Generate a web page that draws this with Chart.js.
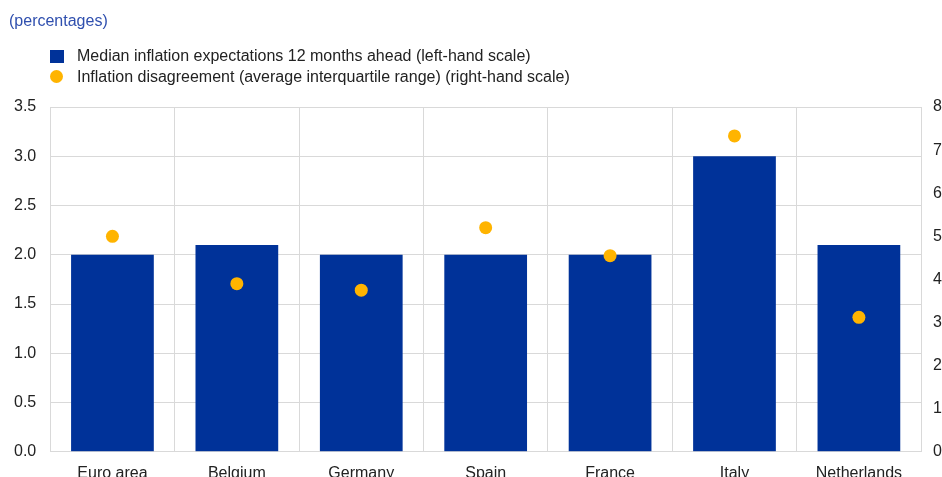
<!DOCTYPE html>
<html>
<head>
<meta charset="utf-8">
<script src="https://cdn.jsdelivr.net/npm/chart.js@4"></script>
<style>
  html, body { margin: 0; padding: 0; background: #fff; overflow: hidden; }
  #wrap { position: relative; width: 942px; height: 477px; overflow: hidden; font-family: "Liberation Sans", Arial, sans-serif; }
  #cv { position: absolute; left: 0; top: 0; }
  #title { position: absolute; left: 9px; top: 13px; font-size: 16px; line-height: 16px; color: #2f4fae; white-space: nowrap; }
  .leg { position: absolute; left: 50px; font-size: 16px; line-height: 16px; color: #222; white-space: nowrap; }
  .leg .sw { position: absolute; left: 0; width: 14px; height: 13px; }
  .leg span.t { position: absolute; left: 27px; top: 0; }
</style>
</head>
<body>
<div id="wrap">
  <div id="cv-holder" style="position:absolute;left:0;top:0;">
    <canvas id="cv"></canvas>
  </div>
  <div id="title">(percentages)</div>
  <div class="leg" id="leg1" style="top:48px;"><div class="sw" style="top:2px;background:#003299"></div><span class="t"></span></div>
  <div class="leg" id="leg2" style="top:69px;"><div class="sw" style="top:1px;background:#ffb400;border-radius:50%;width:13px;height:13px;"></div><span class="t"></span></div>
</div>
<script>
const categories = ["Euro area", "Belgium", "Germany", "Spain", "France", "Italy", "Netherlands"];
const medianExpectations = [2.0, 2.1, 2.0, 2.0, 2.0, 3.0, 2.1];
const disagreement = [5.0, 3.9, 3.75, 5.2, 4.55, 7.33, 3.12];
const leftTicks = [0, 0.5, 1.0, 1.5, 2.0, 2.5, 3.0, 3.5];
const rightTicks = [0, 1, 2, 3, 4, 5, 6, 7, 8];
const seriesNames = [
  "Median inflation expectations 12 months ahead (left-hand scale)",
  "Inflation disagreement (average interquartile range) (right-hand scale)"
];

document.querySelector('#leg1 .t').textContent = seriesNames[0];
document.querySelector('#leg2 .t').textContent = seriesNames[1];

const canvas = document.getElementById('cv');
const CW = 954, CH = 495;
canvas.width = CW; canvas.height = CH;
canvas.style.width = CW + 'px'; canvas.style.height = CH + 'px';

const fontSpec = { family: '"Liberation Sans", Arial, sans-serif', size: 16 };
const grid = '#d9d9d9';

new Chart(canvas, {
  data: {
    labels: categories,
    datasets: [
      {
        type: 'line',
        label: seriesNames[1],
        data: disagreement,
        yAxisID: 'y1',
        showLine: false,
        pointRadius: 6.5,
        pointHoverRadius: 6.5,
        pointBackgroundColor: '#ffb400',
        pointBorderWidth: 0,
        borderColor: '#ffb400',
        order: 0
      },
      {
        type: 'bar',
        label: seriesNames[0],
        data: medianExpectations,
        yAxisID: 'y',
        backgroundColor: '#003299',
        categoryPercentage: 1.0,
        barPercentage: 0.665,
        order: 1
      }
    ]
  },
  options: {
    responsive: false,
    animation: false,
    devicePixelRatio: 1,
    layout: { padding: { top: 107, left: 0, right: 0, bottom: 0 } },
    plugins: { legend: { display: false }, tooltip: { enabled: false } },
    scales: {
      x: {
        offset: true,
        grid: { display: true, color: grid, drawTicks: false, offset: true },
        border: { display: true, color: grid },
        ticks: { font: fontSpec, color: '#222', padding: 12, maxRotation: 0 }
      },
      y: {
        position: 'left',
        min: 0, max: 3.5,
        afterBuildTicks: (ax) => { ax.ticks = leftTicks.map(v => ({ value: v })); },
        grid: { color: grid, drawTicks: false },
        border: { display: true, color: grid },
        ticks: { font: fontSpec, color: '#222', padding: 14, callback: v => Number(v).toFixed(1) }
      },
      y1: {
        position: 'right',
        min: 0, max: 8,
        afterBuildTicks: (ax) => { ax.ticks = rightTicks.map(v => ({ value: v })); },
        grid: { display: false, drawTicks: false },
        border: { display: true, color: grid },
        ticks: { font: fontSpec, color: '#222', padding: 12, callback: v => String(v) }
      }
    }
  }
});
</script>
</body>
</html>
